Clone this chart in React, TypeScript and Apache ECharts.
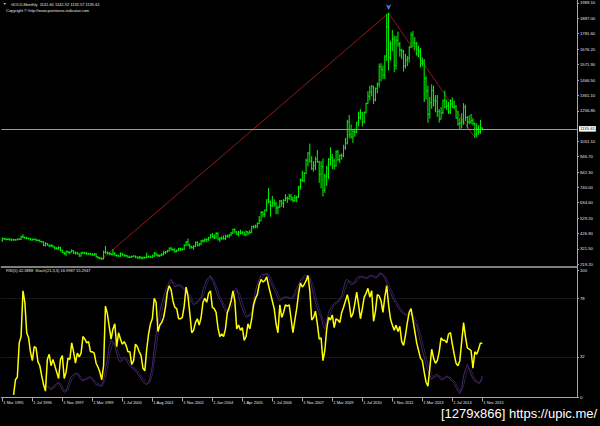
import React, { useEffect, useRef } from "react";
import * as echarts from "echarts";

// ---------- tick labels ----------
const dateLabels = [
  "1 Mar 1995", "1 Jul 1996", "1 Nov 1997", "1 Mar 1999", "1 Jul 2000", "1 Aug 2001",
  "1 Nov 2002", "1 Jan 2004", "1 Apr 2005", "1 Jul 2006", "1 Nov 2007", "1 Mar 2009",
  "1 Jul 2010", "1 Nov 2011", "1 Mar 2013", "1 Jul 2014", "1 Nov 2015",
];
const barsPerDateLabel = 16;
const totalSlots = 307; // bars + right shift space
const priceTicks = [
  219.2, 321.5, 426.9, 529.2, 634.6, 740.0, 842.3, 946.7, 1051.1,
  1256.8, 1361.1, 1466.5, 1571.9, 1676.2, 1781.6, 1887.0, 1989.1,
];
const oscTicks = [0, 32, 78, 100];
const oscLevels = [78, 32];

// ---------- header ----------
const symbolName = "GOLD,Monthly";
const currentOHLC = [1141.6, 1142.92, 1132.57, 1135.61];
const copyrightText = "Copyright \u00a9 http://www.pointzero-indicator.com";
const indicatorHeader = "RSI(5) 42.3888  Stoch(21,3,3) 16.9987 15.2947";
const watermark = "[1279x866] https://upic.me/";

// ---------- monthly bars (Mar 1995 .. Nov 2015) ----------
const firstOpen = 376;
const closes = [
  391, 389, 385, 387, 383, 382, 384, 383, 387, 387,
  405, 400, 396, 392, 391, 382, 385, 387, 379, 379,
  371, 369, 345, 358, 349, 340, 345, 334, 326, 325,
  332, 311, 296, 290, 304, 297, 301, 310, 294, 296,
  288, 273, 294, 292, 294, 288, 287, 287, 280, 286,
  268, 262, 255, 254, 299, 299, 292, 290, 283, 293,
  278, 275, 272, 288, 281, 278, 274, 264, 266, 270,
  273, 266, 262, 267, 258, 264, 262, 267, 271, 265,
  273, 293, 279, 275, 279, 282, 297, 302, 309, 326,
  318, 315, 304, 312, 324, 317, 318, 347, 368, 348,
  336, 331, 339, 364, 346, 354, 375, 378, 385, 386,
  398, 416, 403, 397, 427, 388, 394, 395, 391, 408,
  410, 416, 429, 453, 438, 422, 435, 428, 436, 417,
  437, 429, 433, 473, 470, 476, 495, 513, 569, 556,
  583, 654, 643, 613, 633, 624, 599, 604, 647, 632,
  651, 665, 663, 679, 659, 650, 665, 672, 743, 789,
  783, 834, 923, 972, 917, 865, 886, 930, 913, 829,
  880, 719, 815, 869, 928, 942, 917, 884, 979, 927,
  955, 955, 1008, 1040, 1182, 1096, 1081, 1118, 1113, 1180,
  1212, 1244, 1181, 1248, 1307, 1357, 1386, 1421, 1332, 1410,
  1439, 1556, 1536, 1500, 1628, 1826, 1620, 1714, 1746, 1565,
  1737, 1710, 1669, 1664, 1562, 1604, 1615, 1690, 1772, 1719,
  1714, 1675, 1663, 1578, 1595, 1476, 1393, 1234, 1313, 1396,
  1327, 1323, 1253, 1202, 1244, 1326, 1284, 1291, 1250, 1327,
  1282, 1287, 1210, 1171, 1175, 1184, 1283, 1213, 1183, 1183,
  1190, 1172, 1095, 1135, 1115, 1142, 1135.61,
];
const highs = [
  396, 393, 392, 391, 390, 389, 387, 386, 389, 390,
  408, 418, 401, 399, 395, 391, 389, 389, 388, 384,
  382, 373, 370, 364, 358, 349, 350, 346, 335, 331,
  336, 332, 312, 299, 307, 305, 302, 316, 310, 300,
  298, 290, 297, 301, 299, 296, 292, 292, 290, 291,
  290, 270, 264, 262, 307, 338, 301, 296, 292, 316,
  296, 282, 278, 295, 291, 282, 279, 274, 271, 273,
  275, 273, 268, 270, 268, 266, 266, 293, 274, 272,
  280, 297, 293, 285, 281, 290, 305, 305, 312, 328,
  332, 322, 322, 315, 326, 326, 324, 350, 372, 389,
  352, 340, 343, 368, 371, 359, 378, 382, 391, 390,
  400, 417, 427, 418, 432, 430, 398, 404, 409, 415,
  414, 418, 433, 456, 457, 438, 440, 448, 438, 436,
  443, 439, 448, 475, 478, 482, 497, 541, 573, 575,
  586, 654, 730, 646, 677, 654, 637, 612, 650, 650,
  655, 690, 673, 693, 691, 673, 683, 678, 746, 795,
  848, 839, 930, 974, 1032, 947, 914, 943, 989, 916,
  913, 930, 827, 882, 934, 1007, 964, 930, 986, 989,
  960, 966, 1024, 1071, 1194, 1227, 1162, 1125, 1134, 1180,
  1249, 1265, 1245, 1250, 1310, 1388, 1424, 1431, 1424, 1413,
  1447, 1575, 1577, 1560, 1632, 1911, 1920, 1730, 1803, 1764,
  1763, 1791, 1721, 1676, 1667, 1641, 1626, 1692, 1787, 1796,
  1755, 1723, 1696, 1681, 1617, 1606, 1488, 1424, 1348, 1434,
  1425, 1361, 1362, 1267, 1280, 1332, 1392, 1331, 1315, 1332,
  1345, 1323, 1294, 1255, 1206, 1238, 1307, 1296, 1219, 1224,
  1233, 1205, 1175, 1170, 1157, 1192, 1142.92,
];
const lows = [
  374, 386, 383, 384, 381, 380, 381, 380, 382, 385,
  385, 398, 393, 390, 389, 381, 381, 384, 378, 378,
  370, 367, 343, 341, 346, 337, 338, 334, 318, 320,
  320, 307, 296, 283, 277, 294, 288, 300, 291, 286,
  286, 272, 273, 289, 289, 283, 285, 283, 278, 278,
  266, 257, 253, 252, 254, 291, 287, 281, 281, 282,
  277, 273, 271, 271, 278, 271, 270, 263, 263, 263,
  268, 262, 259, 255, 256, 255, 257, 262, 264, 264,
  263, 270, 277, 271, 270, 276, 282, 290, 299, 307,
  314, 311, 299, 301, 309, 312, 315, 317, 343, 343,
  325, 327, 319, 337, 343, 342, 352, 368, 370, 371,
  378, 396, 398, 390, 394, 381, 371, 385, 388, 385,
  401, 398, 411, 426, 431, 419, 410, 424, 422, 414,
  413, 418, 425, 432, 463, 466, 465, 492, 513, 539,
  540, 580, 633, 543, 610, 611, 560, 560, 603, 610,
  603, 648, 637, 658, 651, 640, 643, 642, 671, 728,
  779, 776, 833, 885, 910, 861, 849, 860, 908, 773,
  735, 681, 705, 753, 800, 890, 866, 865, 882, 920,
  908, 930, 946, 997, 1034, 1075, 1073, 1044, 1086, 1110,
  1157, 1201, 1155, 1177, 1243, 1308, 1332, 1360, 1308, 1325,
  1380, 1420, 1462, 1477, 1478, 1600, 1535, 1602, 1667, 1523,
  1541, 1695, 1628, 1612, 1527, 1548, 1564, 1589, 1688, 1694,
  1673, 1636, 1626, 1555, 1562, 1321, 1338, 1180, 1208, 1275,
  1291, 1251, 1221, 1182, 1202, 1239, 1277, 1268, 1240, 1240,
  1281, 1273, 1207, 1160, 1131, 1142, 1167, 1191, 1142, 1171,
  1170, 1162, 1077, 1080, 1099, 1106, 1132.57,
];

// ZigZag pivots (bar index) and fractal arrow bar
const zigzagPivotBars = [53, 206, 252];
const zigzagPivotKinds = ["low", "high", "low"];
const fractalBars = [206];

// ---------- oscillators ----------
const rsiStart = 6;
const rsi = [
  2, 14, 16, 43, 48, 84, 75, 51, 47, 36,
  29, 40, 39, 28, 25, 17, 10, 5, 30, 34,
  25, 30, 25, 20, 15, 30, 33, 15, 20, 31,
  30, 43, 36, 27, 35, 32, 35, 48, 46, 43,
  44, 36, 36, 35, 27, 24, 20, 14, 25, 72,
  66, 56, 46, 54, 58, 40, 51, 46, 42, 44,
  41, 36, 36, 26, 29, 42, 40, 36, 33, 23,
  21, 38, 50, 58, 62, 78, 75, 52, 57, 59,
  63, 71, 83, 88, 85, 76, 71, 70, 62, 62,
  63, 72, 87, 80, 66, 51, 53, 59, 62, 57,
  63, 75, 78, 75, 82, 84, 71, 70, 67, 55,
  48, 50, 48, 54, 67, 71, 76, 84, 76, 54,
  57, 53, 55, 45, 48, 58, 54, 62, 73, 78,
  81, 89, 93, 91, 92, 95, 88, 82, 76, 70,
  58, 51, 73, 63, 67, 73, 72, 73, 62, 51,
  61, 70, 82, 90, 87, 89, 92, 96, 84, 61,
  63, 68, 58, 46, 47, 29, 37, 54, 63, 61,
  65, 55, 62, 61, 59, 67, 71, 76, 81, 74,
  63, 66, 74, 83, 73, 62, 70, 79, 82, 86,
  79, 84, 60, 68, 81, 80, 76, 67, 79, 88,
  73, 62, 57, 53, 57, 52, 56, 44, 41, 49,
  59, 67, 70, 61, 52, 43, 37, 31, 29, 20,
  12, 9, 23, 38, 31, 27, 29, 36, 47, 45,
  45, 43, 50, 51, 42, 34, 27, 25, 29, 44,
  59, 48, 39, 38, 37, 23, 36, 34, 38, 43,
  42.39,
];
const stochMainStart = 24;
const stochMain = [
  9, 8, 6, 8, 10, 11, 12, 9, 6, 4,
  5, 10, 14, 17, 18, 19, 19, 16, 14, 13,
  14, 15, 16, 16, 14, 12, 10, 10, 9, 9,
  14, 22, 30, 40, 45, 44, 41, 35, 29, 28,
  31, 32, 30, 27, 25, 24, 22, 21, 19, 17,
  15, 12, 11, 10, 12, 17, 25, 38, 50, 58,
  68, 74, 79, 84, 88, 91, 93, 90, 87, 88,
  89, 88, 86, 85, 83, 81, 78, 75, 73, 74,
  76, 77, 79, 85, 89, 93, 94, 96, 92, 89,
  84, 80, 77, 75, 71, 68, 66, 70, 75, 80,
  85, 86, 80, 74, 70, 66, 63, 64, 66, 67,
  76, 84, 89, 93, 96, 97, 97, 98, 95, 91,
  88, 85, 82, 78, 76, 78, 79, 79, 79, 78,
  78, 79, 83, 86, 89, 92, 94, 96, 96, 95,
  94, 87, 81, 75, 70, 66, 63, 57, 54, 60,
  67, 70, 72, 74, 75, 76, 78, 80, 86, 92,
  93, 91, 89, 89, 91, 94, 95, 95, 95, 94,
  94, 95, 96, 96, 95, 94, 95, 98, 98, 96,
  94, 90, 86, 83, 79, 76, 74, 71, 69, 67,
  66, 65, 65, 66, 66, 63, 59, 57, 50, 44,
  37, 32, 26, 21, 18, 14, 16, 18, 18, 16,
  14, 14, 16, 17, 16, 14, 13, 11, 8, 5,
  3, 8, 17, 22, 26, 22, 18, 15, 13, 12,
  11, 12, 17.0,
];
const stochSignalStart = 26;
const stochSignal = [
  8, 7, 8, 10, 11, 11, 9, 6, 5, 6,
  10, 14, 16, 18, 19, 18, 16, 14, 14, 14,
  15, 16, 15, 14, 12, 11, 10, 9, 11, 15,
  22, 31, 38, 43, 43, 40, 35, 31, 29, 30,
  31, 30, 27, 25, 24, 22, 21, 19, 17, 15,
  13, 11, 11, 13, 18, 27, 38, 49, 59, 67,
  74, 79, 84, 88, 91, 91, 90, 88, 88, 88,
  88, 86, 85, 83, 81, 78, 75, 74, 74, 76,
  77, 80, 84, 89, 92, 94, 94, 92, 88, 84,
  80, 77, 74, 71, 68, 68, 70, 75, 80, 84,
  84, 80, 75, 70, 66, 64, 64, 66, 70, 76,
  83, 89, 93, 95, 97, 97, 97, 95, 91, 88,
  85, 82, 79, 77, 78, 79, 79, 79, 78, 78,
  80, 83, 86, 89, 92, 94, 95, 96, 95, 92,
  87, 81, 75, 70, 66, 62, 58, 57, 60, 66,
  70, 72, 74, 75, 76, 78, 81, 86, 90, 92,
  91, 90, 90, 91, 93, 95, 95, 95, 94, 94,
  95, 96, 96, 95, 95, 96, 97, 97, 96, 93,
  90, 86, 83, 79, 76, 74, 71, 69, 67, 66,
  65, 65, 66, 65, 63, 60, 55, 50, 44, 38,
  32, 26, 22, 18, 16, 16, 17, 17, 16, 15,
  15, 16, 16, 16, 14, 13, 11, 8, 5, 5,
  9, 16, 22, 23, 22, 18, 15, 13, 12, 12,
  15.29,
];

const padFrom = (start: number, values: number[]) =>
  (new Array(start).fill(null) as (number | null)[]).concat(values);

const App = () => {
  const ref = useRef<HTMLDivElement>(null);

  useEffect(() => {
    const el = ref.current;
    if (!el) return;
    const chart = echarts.init(el, null, { renderer: "svg" });

    const categories = Array.from({ length: totalSlots }, (_, i) => String(i));
    const lastIdx = closes.length - 1;
    const barData = closes.map((c, i) => {
      const o = i === 0 ? firstOpen : i === lastIdx ? currentOHLC[0] : closes[i - 1];
      return [i, o, c, lows[i], highs[i]];
    });
    const zigzag: (number | null)[] = new Array(closes.length).fill(null);
    zigzagPivotBars.forEach((b, k) => {
      zigzag[b] = zigzagPivotKinds[k] === "high" ? highs[b] : lows[b];
    });
    const showDateAt = (i: number) =>
      i % barsPerDateLabel === 0 && i / barsPerDateLabel < dateLabels.length;

    const axisGray = "#a8a8a8";
    const txt = "#e4e4e4";
    const font = "Liberation Sans";
    const barGreen = "#00ff00";

    const renderBar = (_params: any, api: any) => {
      const x = api.value(0);
      const o = api.coord([x, api.value(1)]);
      const c = api.coord([x, api.value(2)]);
      const l = api.coord([x, api.value(3)]);
      const h = api.coord([x, api.value(4)]);
      const st = { stroke: barGreen, lineWidth: 1 };
      return {
        type: "group",
        children: [
          { type: "line", shape: { x1: h[0], y1: h[1] - 0.5, x2: l[0], y2: l[1] + 0.5 }, style: st },
          { type: "line", shape: { x1: o[0] - 0.8, y1: o[1], x2: o[0], y2: o[1] }, style: st },
          { type: "line", shape: { x1: c[0], y1: c[1], x2: c[0] + 0.8, y2: c[1] }, style: st },
        ],
      };
    };

    const option: any = {
      animation: false,
      backgroundColor: "#000000",
      textStyle: { fontFamily: font },
      grid: [
        { left: 1.4, right: 23, top: 0, height: 266.5 },
        { left: 1.4, right: 23, top: 266.5, height: 131 },
      ],
      xAxis: [
        {
          type: "category",
          gridIndex: 0,
          data: categories,
          axisLine: { show: true, lineStyle: { color: axisGray, width: 1.5 } },
          axisTick: { show: false },
          axisLabel: { show: false },
          splitLine: { show: false },
        },
        {
          type: "category",
          gridIndex: 1,
          data: categories,
          axisLine: { show: true, lineStyle: { color: axisGray, width: 1 } },
          axisTick: {
            show: true,
            alignWithLabel: true,
            interval: (i: number) => showDateAt(i),
            length: 4,
            lineStyle: { color: axisGray },
          },
          axisLabel: {
            interval: (i: number) => showDateAt(i),
            formatter: (_v: string, i: number) =>
              showDateAt(i) ? dateLabels[i / barsPerDateLabel] : "",
            align: "left",
            fontSize: 4,
            color: txt,
            margin: 3,
            padding: [0, 0, 0, 1],
          },
          splitLine: { show: false },
        },
      ],
      yAxis: [
        {
          type: "value",
          gridIndex: 0,
          position: "right",
          min: 202.3,
          max: 2009.4,
          axisLine: { show: true, lineStyle: { color: axisGray } },
          axisTick: {
            show: true,
            length: 2,
            customValues: priceTicks,
            lineStyle: { color: axisGray },
          },
          axisLabel: {
            customValues: priceTicks,
            formatter: (v: number) => v.toFixed(2),
            fontSize: 4.2,
            color: txt,
            margin: 3,
          },
          splitLine: { show: false },
        },
        {
          type: "value",
          gridIndex: 1,
          position: "right",
          min: 0,
          max: 103.15,
          axisLine: { show: true, lineStyle: { color: axisGray } },
          axisTick: {
            show: true,
            length: 2,
            customValues: oscTicks,
            lineStyle: { color: axisGray },
          },
          axisLabel: {
            customValues: oscTicks,
            formatter: (v: number) => String(v),
            fontSize: 4.2,
            color: txt,
            margin: 3,
          },
          splitLine: { show: false },
        },
      ],
      series: [
        {
          type: "line",
          name: "ZigZag",
          xAxisIndex: 0,
          yAxisIndex: 0,
          data: zigzag,
          connectNulls: true,
          showSymbol: false,
          symbol: "none",
          lineStyle: { color: "#8e1b1b", width: 1 },
          z: 1,
          silent: true,
        },
        {
          type: "custom",
          name: "GOLD",
          xAxisIndex: 0,
          yAxisIndex: 0,
          data: barData,
          encode: { x: 0, y: [1, 2, 3, 4] },
          renderItem: renderBar,
          z: 3,
          silent: true,
          markLine: {
            silent: true,
            symbol: ["none", "none"],
            lineStyle: { color: "#9c9c9c", width: 1, type: "solid" },
            label: {
              show: true,
              position: "end",
              formatter: () => currentOHLC[3].toFixed(2),
              backgroundColor: "#ffffff",
              color: "#000000",
              fontSize: 4.2,
              padding: [1, 1, 0.5, 1],
              distance: 2,
            },
            data: [{ yAxis: currentOHLC[3] }],
          },
        },
        {
          type: "scatter",
          name: "Fractal",
          xAxisIndex: 0,
          yAxisIndex: 0,
          data: fractalBars.map((b) => [b, highs[b]]),
          symbol: "arrow",
          symbolRotate: 180,
          symbolSize: [4, 6],
          symbolOffset: [0, -3],
          itemStyle: { color: "#5a9cf0" },
          z: 4,
          silent: true,
        },
        {
          type: "line",
          name: "Stoch signal",
          xAxisIndex: 1,
          yAxisIndex: 1,
          data: padFrom(stochSignalStart, stochSignal),
          showSymbol: false,
          symbol: "none",
          lineStyle: { color: "#282050", width: 1 },
          z: 2,
          silent: true,
        },
        {
          type: "line",
          name: "Stoch main",
          xAxisIndex: 1,
          yAxisIndex: 1,
          data: padFrom(stochMainStart, stochMain),
          showSymbol: false,
          symbol: "none",
          lineStyle: { color: "#4a2766", width: 1 },
          z: 2,
          silent: true,
        },
        {
          type: "line",
          name: "RSI",
          xAxisIndex: 1,
          yAxisIndex: 1,
          data: padFrom(rsiStart, rsi),
          showSymbol: false,
          symbol: "none",
          lineStyle: { color: "#ffff00", width: 1.5 },
          z: 3,
          silent: true,
          markLine: {
            silent: true,
            symbol: ["none", "none"],
            label: { show: false },
            lineStyle: { color: "#252c45", width: 1, type: "dotted" },
            data: oscLevels.map((v) => ({ yAxis: v })),
            z: 1,
          },
        },
      ],
      graphic: [
        {
          type: "text",
          left: 3,
          top: 2.2,
          style: { text: "\u25bc", fontSize: 3.5, fill: "#d0d0d0", fontFamily: font },
        },
        {
          type: "text",
          left: 11,
          top: 2.5,
          style: {
            text: `${symbolName}  ${currentOHLC.map((v) => v.toFixed(2)).join(" ")}`,
            fontSize: 4,
            fill: txt,
            fontFamily: font,
          },
        },
        {
          type: "text",
          left: 6,
          top: 8.8,
          style: { text: copyrightText, fontSize: 4, fill: txt, fontFamily: font },
        },
        {
          type: "text",
          left: 6,
          top: 268.8,
          style: { text: indicatorHeader, fontSize: 4, fill: txt, fontFamily: font },
        },
        {
          type: "text",
          left: 441,
          top: 407,
          style: { text: watermark, fontSize: 13, fill: "#ffffff", fontFamily: font },
        },
      ],
    };

    chart.setOption(option);
    return () => chart.dispose();
  }, []);

  return (
    <div
      ref={ref}
      style={{
        position: "fixed",
        left: 0,
        top: 0,
        width: 600,
        height: 426,
        background: "#000000",
      }}
    />
  );
};

export default App;
